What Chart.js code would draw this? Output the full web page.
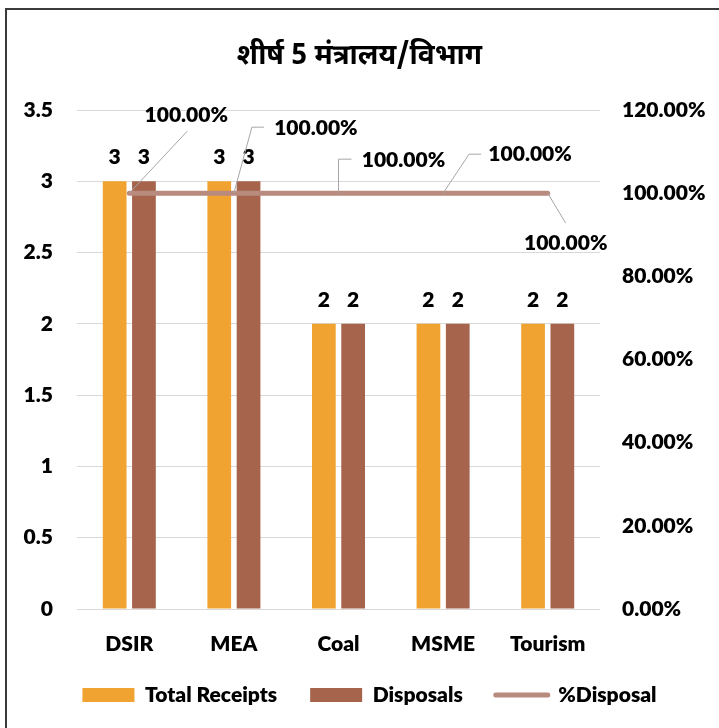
<!DOCTYPE html>
<html>
<head>
<meta charset="utf-8">
<script src="https://cdn.jsdelivr.net/npm/chart.js@4"></script>
<style>
  html, body { margin: 0; padding: 0; background: #fff; overflow: hidden; }
  #frame { position: absolute; left: 5px; top: 8px; width: 800px; height: 800px; border: 2px solid #3b3b3b; }
  #wrap { position: absolute; left: 0; top: 0; width: 719px; height: 716px; }
</style>
</head>
<body>
<div id="frame"></div>
<div id="wrap"><canvas id="chart"></canvas></div>
<script>
// chart data
const categories = ['DSIR', 'MEA', 'Coal', 'MSME', 'Tourism'];
const totalReceipts = [3, 3, 2, 2, 2];
const disposals = [3, 3, 2, 2, 2];
const pctDisposal = [1, 1, 1, 1, 1];

const labelFont = { family: 'Lato, "Open Sans", sans-serif', size: 21, weight: 800 };
const fontStr = '800 21px Lato, "Open Sans", sans-serif';

// where each %Disposal label sits relative to its point (label centre, leader elbow, leader end)
const lineLabelPlacement = [
    { label: [57, -78], elbow: [58, -62], end: [58, -62] },
    { label: [82, -65], elbow: [18, -66], end: [30, -66] },
    { label: [65, -33], elbow: [0, -34], end: [13, -34] },
    { label: [87, -39], elbow: [26, -39], end: [38, -39] },
    { label: [18, 50], elbow: [18, 30], end: [18, 30] }
];

function fmtPct(v) {
    return (v * 100).toFixed(2) + '%';
}

const dataLabels = {
    id: 'dataLabels',
    afterLayout(chart) {
        // legend sits a little right of centre in the original
        chart.legend.left += 10;
        chart.legend.right += 10;
    },
    afterDatasetsDraw(chart) {
        const ctx = chart.ctx;
        ctx.save();
        ctx.font = fontStr;
        ctx.fillStyle = '#000';
        ctx.textAlign = 'center';
        ctx.textBaseline = 'middle';

        // values above the bars
        [0, 1].forEach(di => {
            chart.getDatasetMeta(di).data.forEach((bar, i) => {
                ctx.fillText(String(chart.data.datasets[di].data[i]), bar.x, bar.y - 24);
            });
        });

        // %Disposal labels with leader lines
        chart.getDatasetMeta(2).data.forEach((pt, i) => {
            const p = lineLabelPlacement[i];
            ctx.strokeStyle = '#a6a6a6';
            ctx.lineWidth = 1;
            ctx.beginPath();
            ctx.moveTo(pt.x, pt.y);
            ctx.lineTo(pt.x + p.elbow[0], pt.y + p.elbow[1]);
            ctx.lineTo(pt.x + p.end[0], pt.y + p.end[1]);
            ctx.stroke();
            ctx.fillText(fmtPct(pctDisposal[i]), pt.x + p.label[0], pt.y + p.label[1]);
        });
        ctx.restore();
    }
};

const ctx = document.getElementById('chart').getContext('2d');

new Chart(ctx, {
    type: 'bar',
    data: {
        labels: categories,
        datasets: [{
            label: 'Total Receipts',
            data: totalReceipts,
            backgroundColor: '#f0a330',
            yAxisID: 'y',
            order: 1
        }, {
            label: 'Disposals',
            data: disposals,
            backgroundColor: '#a5644b',
            yAxisID: 'y',
            order: 1
        }, {
            type: 'line',
            label: '%Disposal',
            data: pctDisposal,
            borderColor: '#b98a7e',
            backgroundColor: '#b98a7e',
            borderWidth: 5,
            borderCapStyle: 'round',
            pointRadius: 0,
            yAxisID: 'y1',
            order: 0
        }]
    },
    options: {
        responsive: true,
        maintainAspectRatio: false,
        animation: false,
        categoryPercentage: 0.56,
        barPercentage: 0.81,
        layout: { padding: { left: 0, right: 0, top: 0, bottom: 0.5 } },
        scales: {
            x: {
                grid: { display: false },
                border: { display: false },
                ticks: { font: labelFont, color: '#000', padding: 15 },
                afterFit: function(scale) { scale.height = 42.5; }
            },
            y: {
                min: 0,
                max: 3.5,
                ticks: {
                    stepSize: 0.5,
                    font: labelFont,
                    color: '#000',
                    padding: 24,
                    callback: function(value) { return String(value); }
                },
                grid: { color: '#d9d9d9', drawTicks: false },
                border: { display: false },
                afterFit: function(scale) { scale.width = 77; }
            },
            y1: {
                position: 'right',
                min: 0,
                max: 1.2,
                ticks: {
                    stepSize: 0.2,
                    font: labelFont,
                    color: '#000',
                    padding: 22,
                    callback: function(value) { return fmtPct(value); }
                },
                grid: { display: false, drawTicks: false },
                border: { display: false },
                afterFit: function(scale) { scale.width = 119; }
            }
        },
        plugins: {
            title: {
                display: true,
                text: 'शीर्ष 5 मंत्रालय/विभाग',
                color: '#000',
                font: { family: '"Noto Sans Devanagari", "Noto Sans", sans-serif', size: 28, weight: 'bold' },
                padding: { top: 42, bottom: 34.4 }
            },
            legend: {
                position: 'bottom',
                labels: {
                    font: labelFont,
                    color: '#000',
                    usePointStyle: true,
                    pointStyleWidth: 52,
                    boxHeight: 14,
                    padding: 33,
                    generateLabels: function(chart) {
                        return chart.data.datasets.map((ds, i) => ({
                            text: ds.label,
                            fillStyle: ds.type === 'line' ? ds.borderColor : ds.backgroundColor,
                            strokeStyle: ds.type === 'line' ? ds.borderColor : ds.backgroundColor,
                            lineWidth: ds.type === 'line' ? 5 : 0,
                            lineCap: 'round',
                            pointStyle: ds.type === 'line' ? 'line' : 'rect',
                            fontColor: '#000',
                            hidden: false,
                            datasetIndex: i
                        }));
                    }
                }
            },
            tooltip: { enabled: false }
        }
    },
    plugins: [dataLabels]
});
</script>
</body>
</html>
